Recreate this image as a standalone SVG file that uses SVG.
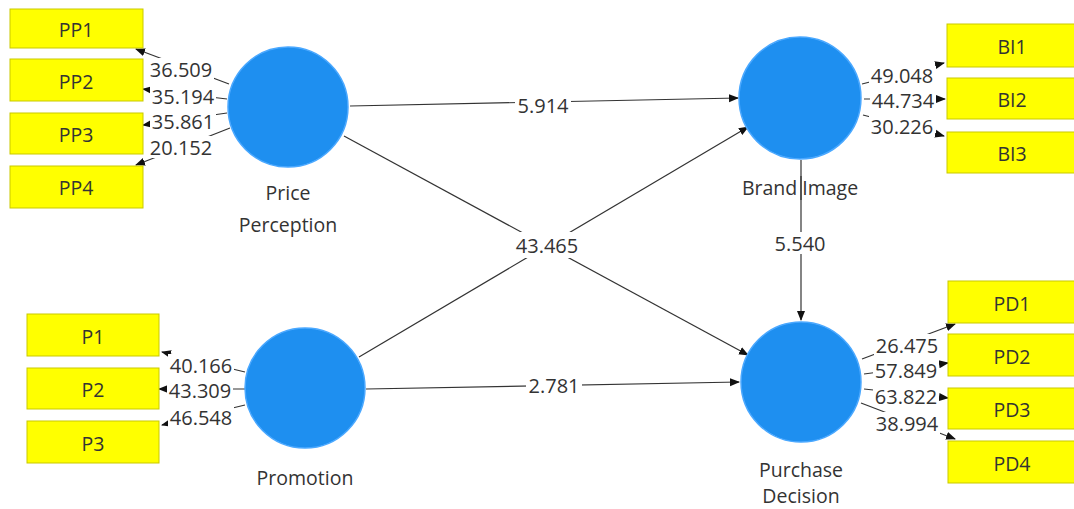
<svg xmlns="http://www.w3.org/2000/svg" width="1074" height="509" viewBox="0 0 1074 509">
<style>
.box{fill:#ffff00;stroke:#c9c900;stroke-width:1}
.bt{font-family:"Open Sans","Noto Sans",sans-serif;font-size:19.5px;fill:#333;text-anchor:middle;dominant-baseline:central}
.lv{fill:#1e8ff0;stroke:#4aa8ff;stroke-width:1.5}
.nl{font-family:"Open Sans","Noto Sans",sans-serif;font-size:19.5px;fill:#333;text-anchor:middle;dominant-baseline:central}
.e{stroke:#333;stroke-width:1.2;fill:none;marker-end:url(#ah)}
.el{font-family:"Open Sans","Noto Sans",sans-serif;font-size:20px;fill:#333;text-anchor:middle;dominant-baseline:central}
.bg{fill:#fff}
</style>
<defs>
<marker id="ah" markerUnits="userSpaceOnUse" markerWidth="10" markerHeight="10" viewBox="0 0 10 10" refX="9" refY="5" orient="auto">
<path d="M0,1 L10,5 L0,9 Z" fill="#111"/>
</marker>
</defs>
<rect width="1074" height="509" fill="#fff"/>
<g id="connectors">
<line class="e" x1="229" y1="84" x2="136" y2="49"/>
<line class="e" x1="227" y1="99" x2="143" y2="89"/>
<line class="e" x1="227" y1="113" x2="143" y2="125"/>
<line class="e" x1="230" y1="128" x2="136" y2="165"/>
<line class="e" x1="862" y1="84" x2="944" y2="63"/>
<line class="e" x1="864" y1="99" x2="945" y2="99"/>
<line class="e" x1="863" y1="115" x2="944" y2="136"/>
<line class="e" x1="245" y1="372" x2="162" y2="352"/>
<line class="e" x1="245" y1="389" x2="159" y2="389"/>
<line class="e" x1="245" y1="405" x2="162" y2="425"/>
<line class="e" x1="862" y1="359" x2="955" y2="324"/>
<line class="e" x1="864" y1="374" x2="948" y2="363"/>
<line class="e" x1="864" y1="389" x2="948" y2="398"/>
<line class="e" x1="861" y1="403" x2="955" y2="439"/>
<line class="e" x1="350" y1="106" x2="738" y2="98"/>
<line class="e" x1="344" y1="136" x2="748" y2="355"/>
<line class="e" x1="359" y1="357" x2="748" y2="127"/>
<line class="e" x1="366" y1="389" x2="739" y2="382"/>
<line class="e" x1="801" y1="160" x2="801" y2="320"/>
<rect class="bg" x="148" y="58" width="66" height="22"/><text class="el" x="181" y="69">36.509</text>
<rect class="bg" x="150" y="86" width="66" height="21"/><text class="el" x="183" y="96">35.194</text>
<rect class="bg" x="150" y="111" width="66" height="21"/><text class="el" x="183" y="121">35.861</text>
<rect class="bg" x="148" y="136" width="66" height="22"/><text class="el" x="181" y="147">20.152</text>
<rect class="bg" x="869" y="64" width="66" height="22"/><text class="el" x="902" y="75">49.048</text>
<rect class="bg" x="870" y="90" width="66" height="21"/><text class="el" x="903" y="100">44.734</text>
<rect class="bg" x="869" y="115" width="66" height="22"/><text class="el" x="902" y="126">30.226</text>
<rect class="bg" x="168" y="354" width="66" height="22"/><text class="el" x="201" y="365">40.166</text>
<rect class="bg" x="167" y="380" width="66" height="21"/><text class="el" x="200" y="390">43.309</text>
<rect class="bg" x="168" y="406" width="66" height="22"/><text class="el" x="201" y="417">46.548</text>
<rect class="bg" x="874" y="334" width="66" height="22"/><text class="el" x="907" y="345">26.475</text>
<rect class="bg" x="873" y="360" width="66" height="21"/><text class="el" x="906" y="370">57.849</text>
<rect class="bg" x="873" y="385" width="66" height="22"/><text class="el" x="906" y="396">63.822</text>
<rect class="bg" x="874" y="412" width="66" height="22"/><text class="el" x="907" y="423">38.994</text>
<rect class="bg" x="515" y="94" width="56" height="22"/><text class="el" x="543" y="105">5.914</text>
<rect class="bg" x="514" y="232" width="66" height="26"/><text class="el" x="547" y="245">43.465</text>
<rect class="bg" x="526" y="374" width="56" height="22"/><text class="el" x="554" y="385">2.781</text>
<rect class="bg" x="772" y="232" width="56" height="22"/><text class="el" x="800" y="243">5.540</text>
</g>
<g id="PP1"><rect class="box" x="10" y="9" width="133" height="39"/><text class="bt" x="76" y="29">PP1</text></g>
<g id="PP2"><rect class="box" x="10" y="59" width="133" height="42"/><text class="bt" x="76" y="81">PP2</text></g>
<g id="PP3"><rect class="box" x="10" y="113" width="133" height="41"/><text class="bt" x="76" y="134">PP3</text></g>
<g id="PP4"><rect class="box" x="10" y="166" width="133" height="42"/><text class="bt" x="76" y="187">PP4</text></g>
<g id="BI1"><rect class="box" x="947" y="24" width="134" height="43"/><text class="bt" x="1012" y="46">BI1</text></g>
<g id="BI2"><rect class="box" x="947" y="78" width="134" height="41"/><text class="bt" x="1012" y="99">BI2</text></g>
<g id="BI3"><rect class="box" x="947" y="132" width="134" height="41"/><text class="bt" x="1012" y="153">BI3</text></g>
<g id="P1"><rect class="box" x="27" y="314" width="132" height="42"/><text class="bt" x="93" y="336">P1</text></g>
<g id="P2"><rect class="box" x="27" y="368" width="132" height="41"/><text class="bt" x="93" y="389">P2</text></g>
<g id="P3"><rect class="box" x="27" y="421" width="132" height="42"/><text class="bt" x="93" y="443">P3</text></g>
<g id="PD1"><rect class="box" x="948" y="281" width="134" height="42"/><text class="bt" x="1012" y="303">PD1</text></g>
<g id="PD2"><rect class="box" x="948" y="334" width="134" height="42"/><text class="bt" x="1012" y="356">PD2</text></g>
<g id="PD3"><rect class="box" x="948" y="388" width="134" height="41"/><text class="bt" x="1012" y="409">PD3</text></g>
<g id="PD4"><rect class="box" x="948" y="441" width="134" height="42"/><text class="bt" x="1012" y="463">PD4</text></g>
<g id="PricePerception"><circle class="lv" cx="288" cy="107" r="60"/><text class="nl" x="288" y="192">Price</text><text class="nl" x="288" y="224">Perception</text></g>
<g id="BrandImage"><circle class="lv" cx="800" cy="98" r="61"/><text class="nl" x="800" y="187">Brand Image</text></g>
<g id="Promotion"><circle class="lv" cx="305" cy="388" r="60"/><text class="nl" x="305" y="477">Promotion</text></g>
<g id="PurchaseDecision"><circle class="lv" cx="801" cy="382" r="60"/><text class="nl" x="801" y="469">Purchase</text><text class="nl" x="801" y="495">Decision</text></g>
<line x1="801" y1="176" x2="801" y2="200" stroke="#333" stroke-width="1.2"/>
</svg>
